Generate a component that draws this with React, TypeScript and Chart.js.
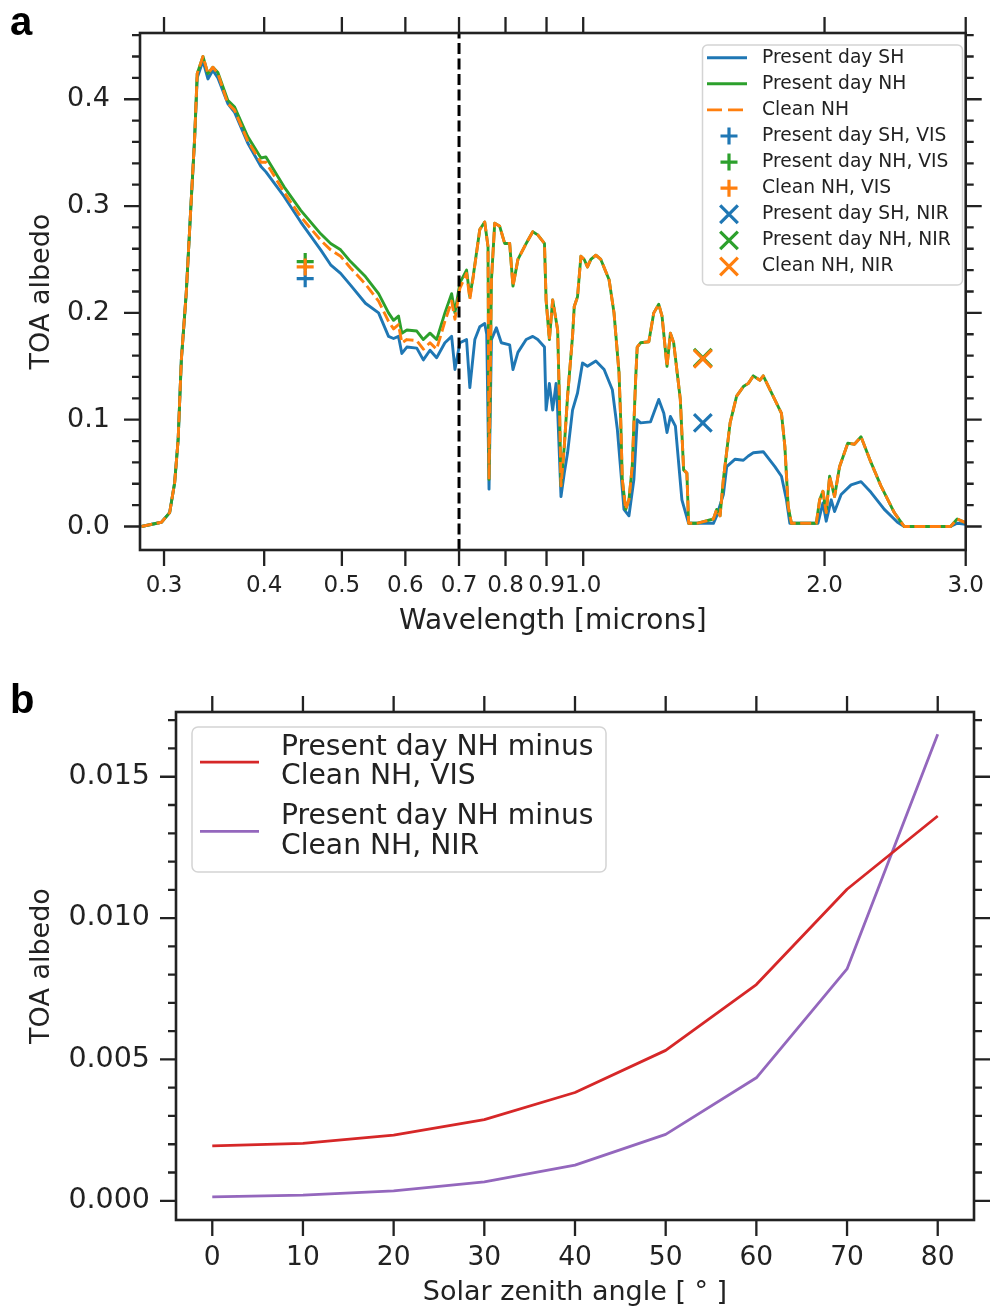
import React, { useEffect, useRef } from "react";
import { Chart, registerables } from "chart.js";

Chart.register(...registerables);

const FONT = '"DejaVu Sans", "Liberation Sans", sans-serif';
const INK = "#222222";
const C_BLUE = "#1f77b4";
const C_ORANGE = "#ff7f0e";
const C_GREEN = "#2ca02c";
const C_RED = "#d62728";
const C_PURPLE = "#9467bd";

// ---------------- Panel a: TOA albedo spectra ----------------
const WL_SH = [
  0.2812, 0.2978, 0.3049, 0.3093, 0.3124, 0.3153, 0.3198, 0.3244, 0.3275, 0.33,
  0.3355, 0.3403, 0.3452, 0.3502, 0.3603, 0.3672, 0.3815, 0.3963, 0.402, 0.4235,
  0.4443, 0.4705, 0.4841, 0.4982, 0.5126, 0.535, 0.5556, 0.5717, 0.58, 0.5883,
  0.594, 0.6026, 0.62, 0.6318, 0.644, 0.6564, 0.6722, 0.6853, 0.6918, 0.7017,
  0.7153, 0.7221, 0.7325, 0.743, 0.7536, 0.758, 0.763, 0.7683, 0.7792, 0.7904,
  0.8096, 0.8173, 0.829, 0.8489, 0.8651, 0.8776, 0.8947, 0.8989, 0.9074, 0.916,
  0.925, 0.9292, 0.9382, 0.9471, 0.9561, 0.9698, 0.9838, 0.998, 1.0123, 1.037,
  1.0619, 1.0873, 1.103, 1.1137, 1.1242, 1.1404, 1.1567, 1.1678, 1.1791, 1.2134,
  1.2423, 1.2605, 1.2721, 1.2845, 1.3032, 1.3277, 1.3535, 1.4535, 1.4673, 1.4957,
  1.5101, 1.5471, 1.584, 1.6069, 1.63, 1.6773, 1.7341, 1.7673, 1.7927, 1.8102,
  1.9623, 1.9908, 2.0097, 2.0388, 2.0585, 2.0977, 2.1585, 2.2209, 2.2852, 2.3747,
  2.466, 2.5142, 2.8722, 2.9276, 3.0122,
];
const ALB_SH = [
  0.0, 0.004, 0.013, 0.041, 0.081, 0.156, 0.219, 0.306, 0.362, 0.42,
  0.436, 0.419, 0.427, 0.42, 0.396, 0.388, 0.359, 0.337, 0.332, 0.309,
  0.285, 0.259, 0.245, 0.237, 0.226, 0.209, 0.2, 0.178, 0.176, 0.178,
  0.162, 0.168, 0.167, 0.156, 0.165, 0.158, 0.172, 0.178, 0.147, 0.172,
  0.175, 0.13, 0.175, 0.187, 0.19, 0.18, 0.035, 0.175, 0.186, 0.172,
  0.17, 0.147, 0.163, 0.175, 0.178, 0.175, 0.168, 0.109, 0.134, 0.109,
  0.134, 0.109, 0.028, 0.05, 0.069, 0.109, 0.125, 0.153, 0.15, 0.155,
  0.147, 0.128, 0.091, 0.053, 0.016, 0.01, 0.044, 0.1, 0.097, 0.098,
  0.119, 0.106, 0.088, 0.103, 0.094, 0.025, 0.003, 0.003, 0.01, 0.03,
  0.056, 0.063, 0.062, 0.066, 0.069, 0.07, 0.056, 0.047, 0.025, 0.003,
  0.003, 0.022, 0.005, 0.025, 0.014, 0.03, 0.039, 0.042, 0.032, 0.016,
  0.004, 0.0, 0.0, 0.003, 0.002,
];
const WL_NH = [
  0.2812, 0.2978, 0.3049, 0.3093, 0.3124, 0.3153, 0.3198, 0.3244, 0.3275, 0.33,
  0.3355, 0.3403, 0.3452, 0.3502, 0.3603, 0.3672, 0.3815, 0.3963, 0.402, 0.4235,
  0.4443, 0.4705, 0.4841, 0.4982, 0.5126, 0.535, 0.5556, 0.5717, 0.58, 0.5883,
  0.594, 0.6026, 0.62, 0.6318, 0.644, 0.6564, 0.6722, 0.6853, 0.6918, 0.7017,
  0.7153, 0.7221, 0.729, 0.743, 0.7536, 0.7608, 0.763, 0.7683, 0.7756, 0.7868,
  0.7981, 0.8096, 0.8173, 0.829, 0.8489, 0.8651, 0.8776, 0.8947, 0.8989, 0.9074,
  0.916, 0.925, 0.9292, 0.9337, 0.9382, 0.9471, 0.9561, 0.9698, 0.9746, 0.9838,
  0.9934, 1.0029, 1.0123, 1.0222, 1.037, 1.0519, 1.0772, 1.0925, 1.1083, 1.1137,
  1.1188, 1.1297, 1.1404, 1.1512, 1.1624, 1.1678, 1.1791, 1.2074, 1.2247, 1.2423,
  1.2541, 1.2721, 1.2845, 1.2967, 1.3217, 1.3343, 1.3469, 1.3535, 1.386, 1.4535,
  1.4673, 1.4815, 1.4957, 1.5249, 1.5537, 1.584, 1.6069, 1.63, 1.6615, 1.6773,
  1.7175, 1.7673, 1.7846, 1.8015, 1.8186, 1.9532, 1.9722, 1.9908, 2.0097, 2.0293,
  2.0585, 2.0881, 2.138, 2.1793, 2.2209, 2.2852, 2.3514, 2.4434, 2.5142, 2.8722,
  2.9276, 3.0122,
];
const ALB_NH = [
  0.0, 0.004, 0.013, 0.041, 0.081, 0.156, 0.219, 0.306, 0.362, 0.424,
  0.44, 0.424, 0.43, 0.425, 0.399, 0.393, 0.365, 0.345, 0.346, 0.318,
  0.296, 0.274, 0.265, 0.259, 0.248, 0.234, 0.218, 0.2, 0.193, 0.197,
  0.181, 0.184, 0.183, 0.175, 0.181, 0.175, 0.2, 0.218, 0.2, 0.228,
  0.24, 0.215, 0.234, 0.278, 0.285, 0.262, 0.044, 0.231, 0.284, 0.281,
  0.265, 0.265, 0.225, 0.25, 0.265, 0.276, 0.273, 0.265, 0.212, 0.175,
  0.212, 0.193, 0.184, 0.122, 0.038, 0.075, 0.122, 0.178, 0.206, 0.215,
  0.253, 0.25, 0.243, 0.25, 0.254, 0.25, 0.231, 0.2, 0.144, 0.1,
  0.044, 0.016, 0.025, 0.056, 0.137, 0.168, 0.172, 0.173, 0.2, 0.208,
  0.197, 0.15, 0.181, 0.172, 0.119, 0.053, 0.05, 0.003, 0.003, 0.007,
  0.016, 0.01, 0.044, 0.097, 0.122, 0.131, 0.134, 0.141, 0.137, 0.141,
  0.125, 0.106, 0.075, 0.019, 0.003, 0.003, 0.025, 0.033, 0.013, 0.047,
  0.028, 0.056, 0.078, 0.077, 0.084, 0.06, 0.038, 0.013, 0.0, 0.0,
  0.007, 0.003,
];
const WL_CLEAN = WL_NH;
const ALB_CLEAN = [
  0.0, 0.004, 0.013, 0.041, 0.081, 0.156, 0.219, 0.306, 0.362, 0.424,
  0.44, 0.424, 0.43, 0.424, 0.396, 0.39, 0.361, 0.341, 0.341, 0.313,
  0.29, 0.268, 0.259, 0.253, 0.242, 0.227, 0.211, 0.192, 0.185, 0.189,
  0.172, 0.175, 0.174, 0.166, 0.172, 0.166, 0.192, 0.211, 0.194, 0.223,
  0.237, 0.213, 0.233, 0.278, 0.285, 0.262, 0.044, 0.231, 0.284, 0.281,
  0.265, 0.265, 0.225, 0.25, 0.265, 0.276, 0.273, 0.265, 0.212, 0.175,
  0.212, 0.193, 0.184, 0.122, 0.038, 0.075, 0.122, 0.178, 0.206, 0.215,
  0.253, 0.25, 0.243, 0.25, 0.254, 0.25, 0.231, 0.2, 0.144, 0.1,
  0.044, 0.016, 0.025, 0.056, 0.137, 0.168, 0.172, 0.173, 0.2, 0.208,
  0.197, 0.15, 0.181, 0.172, 0.119, 0.053, 0.05, 0.003, 0.003, 0.007,
  0.016, 0.01, 0.044, 0.097, 0.122, 0.131, 0.134, 0.141, 0.137, 0.141,
  0.125, 0.106, 0.075, 0.019, 0.003, 0.003, 0.025, 0.033, 0.013, 0.047,
  0.028, 0.056, 0.078, 0.077, 0.084, 0.06, 0.038, 0.013, 0.0, 0.0,
  0.007, 0.003,
];
// broadband values, order: Present day SH, Present day NH, Clean NH
const SERIES_NAMES = ["Present day SH", "Present day NH", "Clean NH"];
const VIS_WL = 0.45;
const NIR_WL = 1.41;
const VIS_ALBEDO = [0.232, 0.248, 0.243];
const NIR_ALBEDO = [0.097, 0.158, 0.157];
const VIS_NIR_SPLIT = 0.7;
const A_X_TICKS = [0.3, 0.4, 0.5, 0.6, 0.7, 0.8, 0.9, 1.0, 2.0, 3.0];
const A_Y_TICKS = [0.0, 0.1, 0.2, 0.3, 0.4];
const A_X_RANGE = [0.28, 3.0];
const A_Y_RANGE = [-0.022, 0.462];

// ---------------- Panel b: difference vs solar zenith angle ----------------
const SZA = [0, 10, 20, 30, 40, 50, 60, 70, 80];
const DIFF_VIS = [0.00194, 0.00203, 0.00232, 0.00287, 0.00383, 0.00532, 0.00765, 0.01102, 0.01361];
const DIFF_NIR = [0.00014, 0.0002, 0.00035, 0.00067, 0.00126, 0.00235, 0.00435, 0.0082, 0.0165];
const B_LABELS = [
  ["Present day NH minus", "Clean NH, VIS"],
  ["Present day NH minus", "Clean NH, NIR"],
];
const B_X_TICKS = [0, 10, 20, 30, 40, 50, 60, 70, 80];
const B_Y_TICKS = [0.0, 0.005, 0.01, 0.015];
const B_X_RANGE = [-4, 84];
const B_Y_RANGE = [-0.00068, 0.01729];

const minorTicks = (step: number, count: number, every: number) => {
  const out: number[] = [];
  for (let k = 0; k <= count; k++) if (k % every !== 0) out.push(k * step);
  return out;
};

type LegendCfg = {
  x: number; y: number; w: number; h: number; r: number;
  fontSize: number; textX: number; h0: number; h1: number; mx: number;
  firstRow: number; rowStep: number; lineStep: number;
};

function drawMarker(ctx: CanvasRenderingContext2D, style: string, x: number, y: number, r: number) {
  if (style === "cross") {
    ctx.moveTo(x - r, y); ctx.lineTo(x + r, y);
    ctx.moveTo(x, y - r); ctx.lineTo(x, y + r);
  } else {
    const d = r * Math.SQRT1_2;
    ctx.moveTo(x - d, y - d); ctx.lineTo(x + d, y + d);
    ctx.moveTo(x - d, y + d); ctx.lineTo(x + d, y - d);
  }
}

function makeMplPlugin(cfg: {
  xMajor: number[]; yMajor: number[]; yMinor: number[];
  major: number; minor: number; frame: number; tick: number; legend: LegendCfg;
}) {
  return {
    id: "mplFrame",
    afterDatasetsDraw(chart: any) {
      const { ctx, chartArea } = chart;
      const { left, right, top, bottom } = chartArea;
      const xs = chart.scales.x;
      const ys = chart.scales.y;
      ctx.save();
      ctx.strokeStyle = INK;
      ctx.lineWidth = cfg.frame;
      ctx.strokeRect(left, top, right - left, bottom - top);
      ctx.lineWidth = cfg.tick;
      ctx.beginPath();
      const hT = (v: number, len: number) => {
        const p = xs.getPixelForValue(v);
        ctx.moveTo(p, bottom); ctx.lineTo(p, bottom + len);
        ctx.moveTo(p, top); ctx.lineTo(p, top - len);
      };
      const vT = (v: number, len: number) => {
        const p = ys.getPixelForValue(v);
        ctx.moveTo(left, p); ctx.lineTo(left - len, p);
        ctx.moveTo(right, p); ctx.lineTo(right + len, p);
      };
      cfg.xMajor.forEach((v) => hT(v, cfg.major));
      cfg.yMajor.forEach((v) => vT(v, cfg.major));
      cfg.yMinor.forEach((v) => vT(v, cfg.minor));
      ctx.stroke();
      ctx.restore();
    },
    afterDraw(chart: any) {
      const L = cfg.legend;
      const ctx: CanvasRenderingContext2D = chart.ctx;
      const items = chart.data.datasets.filter((d: any) => d.legendKind);
      ctx.save();
      ctx.beginPath();
      if ((ctx as any).roundRect) (ctx as any).roundRect(L.x, L.y, L.w, L.h, L.r);
      else ctx.rect(L.x, L.y, L.w, L.h);
      ctx.fillStyle = "rgba(255,255,255,0.85)";
      ctx.fill();
      ctx.lineWidth = 1.5;
      ctx.strokeStyle = "#d4d4d4";
      ctx.stroke();
      ctx.font = `${L.fontSize}px ${FONT}`;
      ctx.textBaseline = "middle";
      ctx.textAlign = "left";
      items.forEach((d: any, i: number) => {
        const lines: string[] = Array.isArray(d.label) ? d.label : [d.label];
        const rowTop = L.firstRow + i * L.rowStep;
        const cy = rowTop + ((lines.length - 1) * L.lineStep) / 2;
        ctx.fillStyle = INK;
        lines.forEach((t, j) => ctx.fillText(t, L.textX, rowTop + j * L.lineStep));
        const isLine = d.legendKind === "line";
        ctx.strokeStyle = isLine ? d.borderColor : d.pointBorderColor;
        ctx.lineWidth = isLine ? d.borderWidth : d.pointBorderWidth;
        ctx.setLineDash(isLine && d.legendDash ? d.legendDash : []);
        ctx.beginPath();
        if (isLine) {
          ctx.moveTo(L.h0, cy);
          ctx.lineTo(L.h1, cy);
        } else {
          drawMarker(ctx, d.pointStyle, L.mx, cy, d.pointRadius);
        }
        ctx.stroke();
        ctx.setLineDash([]);
      });
      ctx.restore();
    },
  };
}

const pts = (xs: number[], ys: number[]) => xs.map((x, i) => ({ x, y: ys[i] }));

function buildA(): any {
  const colors = [C_BLUE, C_GREEN, C_ORANGE];
  const wls = [WL_SH, WL_NH, WL_CLEAN];
  const albs = [ALB_SH, ALB_NH, ALB_CLEAN];
  const lineSets = SERIES_NAMES.map((name, i) => ({
    label: name,
    legendKind: "line",
    legendDash: i === 2 ? [15, 6] : null,
    data: pts(wls[i], albs[i]),
    borderColor: colors[i],
    borderWidth: 2.9,
    borderDash: i === 2 ? [11, 4.5] : [],
    borderJoinStyle: "round",
    pointRadius: 0,
    tension: 0,
    order: 9 - i,
  }));
  const visSets = SERIES_NAMES.map((name, i) => ({
    label: `${name}, VIS`,
    legendKind: "marker",
    data: [{ x: VIS_WL, y: VIS_ALBEDO[i] }],
    showLine: false,
    pointStyle: "cross",
    pointRadius: 8.5,
    pointHoverRadius: 8.5,
    pointBorderWidth: 3.2,
    pointBorderColor: colors[i],
    pointBackgroundColor: colors[i],
    order: 5 - i,
  }));
  const nirSets = SERIES_NAMES.map((name, i) => ({
    label: `${name}, NIR`,
    legendKind: "marker",
    data: [{ x: NIR_WL, y: NIR_ALBEDO[i] }],
    showLine: false,
    pointStyle: "crossRot",
    pointRadius: 12.5,
    pointHoverRadius: 12.5,
    pointBorderWidth: 3.2,
    pointBorderColor: colors[i],
    pointBackgroundColor: colors[i],
    order: 2 - i,
  }));
  const split = {
    label: "",
    data: [
      { x: VIS_NIR_SPLIT, y: A_Y_RANGE[0] },
      { x: VIS_NIR_SPLIT, y: A_Y_RANGE[1] },
    ],
    borderColor: "#000000",
    borderWidth: 3,
    borderDash: [11, 4.5],
    pointRadius: 0,
    order: 6,
  };
  return {
    type: "line",
    data: { datasets: [...lineSets, ...visSets, ...nirSets, split] },
    options: {
      responsive: false,
      animation: false,
      events: [],
      layout: { autoPadding: false, padding: { left: 0, top: 33, right: 22, bottom: 0 } },
      plugins: { legend: { display: false }, tooltip: { enabled: false } },
      scales: {
        x: {
          type: "logarithmic",
          min: A_X_RANGE[0],
          max: A_X_RANGE[1],
          afterBuildTicks: (s: any) => { s.ticks = A_X_TICKS.map((value) => ({ value })); },
          afterFit: (s: any) => { s.height = 655 - 550; },
          grid: { display: true, drawOnChartArea: false, drawTicks: true, tickLength: 16, color: "rgba(0,0,0,0)" },
          border: { display: false },
          ticks: {
            autoSkip: false, maxRotation: 0, minRotation: 0, padding: 6, color: INK,
            font: { family: FONT, size: 23 },
            callback: (v: any) => Number(v).toFixed(1),
          },
          title: {
            display: true, text: "Wavelength [microns]", color: INK,
            font: { family: FONT, size: 28, lineHeight: 1.2 }, padding: { top: 0, bottom: 16 },
          },
        },
        y: {
          type: "linear",
          min: A_Y_RANGE[0],
          max: A_Y_RANGE[1],
          afterBuildTicks: (s: any) => { s.ticks = A_Y_TICKS.map((value) => ({ value })); },
          afterFit: (s: any) => { s.width = 140; },
          grid: { display: true, drawOnChartArea: false, drawTicks: true, tickLength: 16, color: "rgba(0,0,0,0)" },
          border: { display: false },
          ticks: {
            padding: 14, color: INK, font: { family: FONT, size: 27 },
            callback: (v: any) => Number(v).toFixed(1),
          },
          title: {
            display: true, text: "TOA albedo", color: INK,
            font: { family: FONT, size: 27, lineHeight: 1.2 }, padding: { top: 26, bottom: 0 },
          },
        },
      },
    },
    plugins: [
      makeMplPlugin({
        xMajor: A_X_TICKS, yMajor: A_Y_TICKS, yMinor: minorTicks(0.02, 23, 5),
        major: 16, minor: 8, frame: 2.6, tick: 2.3,
        legend: {
          x: 702.5, y: 45, w: 260, h: 240, r: 5, fontSize: 18.7, textX: 762,
          h0: 707, h1: 747, mx: 729, firstRow: 57.7, rowStep: 26.1, lineStep: 0,
        },
      }),
    ],
  };
}

function buildB(): any {
  const series = [DIFF_VIS, DIFF_NIR];
  const colors = [C_RED, C_PURPLE];
  return {
    type: "line",
    data: {
      datasets: series.map((vals, i) => ({
        label: B_LABELS[i],
        legendKind: "line",
        data: pts(SZA, vals),
        borderColor: colors[i],
        borderWidth: 2.8,
        borderJoinStyle: "round",
        pointRadius: 0,
        tension: 0,
      })),
    },
    options: {
      responsive: false,
      animation: false,
      events: [],
      layout: { autoPadding: false, padding: { left: 0, top: 57, right: 16, bottom: 0 } },
      plugins: { legend: { display: false }, tooltip: { enabled: false } },
      scales: {
        x: {
          type: "linear",
          min: B_X_RANGE[0],
          max: B_X_RANGE[1],
          afterBuildTicks: (s: any) => { s.ticks = B_X_TICKS.map((value) => ({ value })); },
          afterFit: (s: any) => { s.height = 655 - 565; },
          grid: { display: true, drawOnChartArea: false, drawTicks: true, tickLength: 16, color: "rgba(0,0,0,0)" },
          border: { display: false },
          ticks: {
            autoSkip: false, maxRotation: 0, minRotation: 0, padding: 6, color: INK,
            font: { family: FONT, size: 26.5 },
            callback: (v: any) => String(Math.round(Number(v))),
          },
          title: {
            display: true, text: "Solar zenith angle [ ° ]", color: INK,
            font: { family: FONT, size: 27, lineHeight: 1.2 }, padding: { top: 0, bottom: 1 },
          },
        },
        y: {
          type: "linear",
          min: B_Y_RANGE[0],
          max: B_Y_RANGE[1],
          afterBuildTicks: (s: any) => { s.ticks = B_Y_TICKS.map((value) => ({ value })); },
          afterFit: (s: any) => { s.width = 176; },
          grid: { display: true, drawOnChartArea: false, drawTicks: true, tickLength: 16, color: "rgba(0,0,0,0)" },
          border: { display: false },
          ticks: {
            padding: 10, color: INK, font: { family: FONT, size: 28.5 },
            callback: (v: any) => Number(v).toFixed(3),
          },
          title: {
            display: true, text: "TOA albedo", color: INK,
            font: { family: FONT, size: 27, lineHeight: 1.2 }, padding: { top: 26, bottom: 0 },
          },
        },
      },
    },
    plugins: [
      makeMplPlugin({
        xMajor: B_X_TICKS, yMajor: B_Y_TICKS, yMinor: minorTicks(0.001, 17, 5),
        major: 16, minor: 8, frame: 2.6, tick: 2.3,
        legend: {
          x: 192, y: 72, w: 414, h: 145, r: 6, fontSize: 28.2, textX: 281,
          h0: 200, h1: 259, mx: 229, firstRow: 92.3, rowStep: 69.4, lineStep: 29.5,
        },
      }),
    ],
  };
}

function ChartCanvas({ height, build, top }: { height: number; build: () => any; top: number }) {
  const ref = useRef<HTMLCanvasElement>(null);
  useEffect(() => {
    const chart = new Chart(ref.current as HTMLCanvasElement, build());
    return () => chart.destroy();
  }, [build]);
  return (
    <canvas
      ref={ref}
      width={990}
      height={height}
      style={{ position: "absolute", left: 0, top, width: 990, height, display: "block" }}
    />
  );
}

const letterStyle: React.CSSProperties = {
  position: "absolute",
  font: 'bold 40px "Liberation Sans", Arial, sans-serif',
  lineHeight: "40px",
  color: "#000",
};

export default function App() {
  return (
    <div style={{ position: "absolute", left: 0, top: 0, width: 990, height: 1310, background: "#fff", overflow: "hidden" }}>
      <ChartCanvas height={655} build={buildA} top={0} />
      <ChartCanvas height={655} build={buildB} top={655} />
      <div style={{ ...letterStyle, left: 10, top: 1 }}>a</div>
      <div style={{ ...letterStyle, left: 10, top: 679 }}>b</div>
    </div>
  );
}
